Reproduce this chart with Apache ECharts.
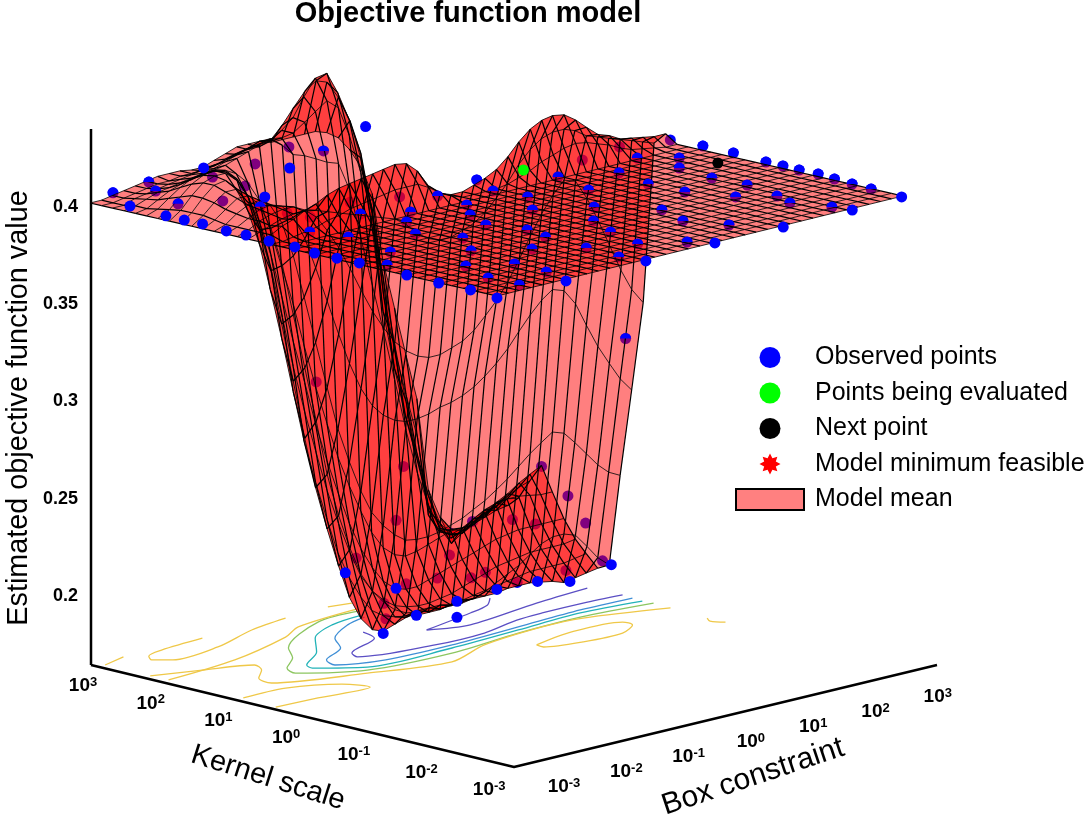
<!DOCTYPE html>
<html>
<head>
<meta charset="utf-8">
<title>Objective function model</title>
<style>html,body{margin:0;padding:0;background:#fff}#chart{width:1089px;height:819px}</style>
<script src="https://cdn.jsdelivr.net/npm/echarts@6/dist/echarts.min.js"></script>
</head>
<body>
<div id="chart"></div>
<script>
// log10 of box constraint for each surface column, 1/6 decade apart
const logBox = [-3,-2.83,-2.67,-2.5,-2.33,-2.17,-2,-1.83,-1.67,-1.5,-1.33,-1.17,-1,-0.83,-0.67,-0.5,-0.33,-0.17,0,0.17,0.33,0.5,0.67,0.83,1,1.17,1.33,1.5,1.67,1.83,2,2.17,2.33,2.5,2.67,2.83,3];
const logKernel = logBox;

// estimated objective value x1000, rows go from kernel 10^-3 to 10^3
const flatRow = [400,400,400,400,400,400,400,400,400,400,400,400,400,400,400,400,400,400,400,400,400,400,400,400,400,400,400,400,400,400,400,400,400,400,400,400,400];
const zRows = [
flatRow,flatRow,flatRow,flatRow,flatRow,flatRow,flatRow,flatRow,flatRow,flatRow,
flatRow,flatRow,flatRow,flatRow,flatRow,flatRow,flatRow,flatRow,flatRow,flatRow,
[400,400,401,402,403,405,406,408,409,410,411,412,412,412,409,405,402,400,400,400,400,401,403,405,408,410,412,413,412,410,408,405,403,402,401,400,400],
[400,402,405,407,410,412,415,417,418,419,420,421,422,421,416,407,402,400,400,402,404,407,412,418,423,426,427,426,422,417,412,410,407,406,405,404,404],
[400,402,404,406,407,407,406,404,402,400,398,396,394,392,388,382,378,376,376,378,380,384,390,396,404,410,414,416,416,414,410,408,406,404,402,400,398],
[400,402,405,407,408,408,405,400,392,382,370,358,346,336,328,322,318,316,316,318,320,324,330,336,344,354,364,374,382,388,386,376,364,350,336,325,317],
[400,402,405,408,409,407,400,388,372,354,336,320,306,296,290,286,284,284,285,287,288,290,293,297,302,308,315,322,328,332,330,322,310,298,288,279,272],
[400,402,406,409,410,406,396,378,356,332,308,286,268,252,240,232,226,222,221,221,222,224,226,229,232,236,240,245,250,254,258,256,250,243,236,231,228],
[400,403,407,411,411,405,392,372,346,318,290,262,240,222,208,198,191,186,183,182,181,181,181,181,182,184,187,190,193,197,201,203,203,201,194,187,182],
[400,404,409,413,413,405,390,368,340,310,280,254,232,212,195,183,176,174,176,178,180,180,180,179,179,179,179,179,180,180,180,179,178,176,177,178,179],
[400,404,410,415,416,410,398,380,356,330,302,276,254,234,216,202,191,183,179,177,176,175,175,175,176,177,178,179,180,181,182,183,183,183,183,184,185],
[400,404,410,415,417,417,412,402,386,364,338,312,288,266,246,228,212,199,190,184,180,178,177,177,178,179,181,183,185,187,188,189,190,190,190,190,191],
[400,403,408,413,416,417,415,410,400,386,368,346,322,300,278,258,240,224,210,199,191,186,184,184,186,188,190,192,194,196,198,199,200,200,200,200,200],
[400,402,406,410,413,414,414,413,410,404,394,378,358,338,316,294,274,256,240,226,214,205,200,198,199,201,203,205,205,207,210,212,214,214,213,212,212],
[400,401,404,407,409,410,411,412,413,415,417,419,420,416,410,408,405,402,400,385,360,335,310,285,258,235,218,205,196,200,204,207,211,214,218,221,224],
[400,401,403,405,406,407,408,409,410,412,414,416,418,418,417,418,422,426,430,425,410,390,368,335,300,270,240,220,205,198,197,200,203,206,210,213,215],
[400,400,402,403,404,405,406,407,408,409,410,412,413,414,414,418,423,432,440,441,430,415,397,360,315,285,260,240,210,198,195,197,200,203,205,206,205],
[400,400,401,402,403,404,404,405,405,405,406,408,409,410,410,412,418,425,432,436,434,425,412,392,365,320,292,268,245,205,196,195,193,195,197,199,200],
[400,400,401,402,403,404,405,405,405,404,404,406,408,410,410,410,408,408,408,408,408,406,402,395,385,370,335,310,285,262,215,200,188,190,195,198,200]
];

// observed points as [log box, log kernel, value]
const obsFull = [
[2.96,-3.02,.4],[2.20,-3.05,.4],[1.18,-3.05,.4],[.20,-3.02,.4],[-.85,-3.05,.4],[-2.04,-3.06,.4],[-3.06,-3.06,.4],
[-.49,2.56,.4],[-1.57,1.85,.4],[-1.10,3.22,.4],[-2.81,2.60,.4],[-2.86,2.02,.4],[-2.86,1.75,.4],[-2.85,1.49,.4],[-2.90,1.09,.4],[-2.89,.81,.4],[-2.91,.45,.4],[-2.91,.07,.4],[-2.96,-.27,.4],[-2.96,-.60,.4],[-2.95,-.92,.4],[-2.99,-1.66,.4],[-3.01,-2.15,.4],[-3.00,-2.61,.4],
[0,1.93,.4215],
[-.43,1.8,.203],[.13,1.8,.168],[.32,1.8,.189],[.62,1.8,.173],[1.22,1.8,.175],[1.22,1.8,.167],[1.81,1.8,.176],[2.41,1.8,.175],[2.89,1.8,.171],[3.02,1.32,.182]
];
const obsHalf = [
[3.13,.08,.4],[3.13,-.37,.4],[3.08,-.90,.4],[3.08,-1.15,.4],[3.07,-1.40,.4],[3.08,-1.67,.4],[3.04,-1.95,.4],[3.01,-2.24,.4],[2.99,-2.54,.4],
[2.15,-2.80,.4],[1.98,-2.35,.4],[2.10,-2.04,.4],[2.23,-1.47,.4],[1.78,-1.75,.4],[1.57,-1.21,.4],[2.20,-.98,.4],[2.28,-.42,.4],[2.59,-.11,.4],[1.56,-.68,.4],[.85,-1.59,.4],[.66,-2.09,.4],[.86,-2.57,.4],[.03,-2.78,.4],[-.38,-2.46,.4],[-.92,-2.72,.4],[-.20,-1.88,.4],[-.87,-2.19,.4],[.02,-1.41,.4],[.46,-.98,.4],[.95,-.41,.4],[1.70,-.11,.4],[2.29,.21,.4],[1.14,.23,.4],[.30,-.16,.4],[-.07,-.60,.4],[-.73,-1.18,.4],[-.82,-1.54,.4],[-1.29,-1.81,.4],[-1.88,-2.14,.4],[-1.90,-2.63,.4],[-2.50,-2.83,.4],[.24,.29,.4],
[.28,2.83,.4],[-1.91,1.58,.4],[-1.93,3.20,.4],[-2.16,2.87,.4],[-2.52,3.14,.4],[-2.82,-1.20,.4],[-2.39,-.82,.4],[-2.50,-2.37,.4],[-2.29,-1.83,.4],[-1.78,-1.40,.4],[-1.44,-.94,.4],[-1.65,-.45,.4],[-1.34,-.01,.4],[-1.00,.27,.4],[-.31,.56,.4],[-.38,.06,.4],[-.67,-.28,.4],[-.87,-.71,.4],[.47,.76,.4],[-2.34,.42,.4],[-2.22,-.03,.4],[-2.40,2.30,.4],[-1.42,.59,.4],
[2.63,.72,.303]
];
const obsUnder = [
[1.84,.57,.4],[2.51,.69,.4],[3.09,.52,.4],[-1.99,2.05,.4],[-1.91,1.18,.4],[-1.87,.88,.4],[-1.12,1.04,.4],[-.61,.82,.4],[-.61,2.95,.4],[.16,3.22,.4],[-1.37,2.34,.4],[-1.32,2.87,.4],
[-.86,1.8,.302],[.43,1.8,.249],[.32,1.8,.223],[1.45,1.8,.213],[1.12,1.8,.21],[2.47,1.8,.232],[2.86,1.8,.214],[2.64,1.32,.206],[2.38,1.8,.204],[2.04,1.8,.209],[1.11,1.8,.199],[.93,1.8,.189],[1.64,1.8,.186],[1.43,1.8,.185],[2.83,1.8,.177],[2.11,1.8,.177],[2.89,1.32,.185],[.17,1.8,.175],[-.27,1.8,.209],[.47,1.8,.19],[.14,1.8,.183]
];
const evalPoints = [[1.11,.71,.4]];
const nextPoints = [[2.71,-.56,.4]];

// floor contours as [log box, log kernel]
const contourPurpleA = [[-.10,2.04],[-.20,1.78],[-.80,1.50],[-.87,1.35],[.03,1.15],[.73,1.15],[1.34,1.30],[1.73,1.33],[2.31,1.33],[2.83,1.29]];
const contourPurpleB = [[1.80,2.14],[1.57,1.95],[1.22,1.84],[.41,1.65],[.87,1.49],[1.98,1.66],[2.78,1.74]];
const contourBlue = [[.35,2.47],[0,2.36],[-.48,2.06],[-.73,1.73],[-1.18,1.48],[-1.27,1.27],[-.76,1.06],[.15,1.03],[1.15,1.09],[2.09,1.15],[2.81,1.13]];
const contourTeal = [[.39,2.55],[-.11,2.47],[-.62,2.20],[-1.02,1.78],[-1.47,1.47],[-1.52,1.34],[-1.10,.98],[.06,.94],[1.06,1.0],[2.0,1.06],[2.79,.97]];
const contourGreen = [[.50,2.68],[-.13,2.65],[-1.10,2.10],[-1.36,1.78],[-1.70,1.52],[-1.79,1.31],[-1.19,.89],[-.09,.79],[.97,.91],[1.88,.94],[2.81,.83]];
const contourYellow = [
[[-2.89,2.01],[-1.83,2.13],[-.80,2.44],[-.41,2.65],[.54,2.76]],
[[-2.90,2.26],[-2.36,2.06],[-1.84,1.84],[-1.94,1.64],[-2.19,1.43],[-2.25,1.19],[-1.28,.80],[-.35,.53],[.38,.80],[1.32,.92],[1.87,.89],[2.79,.57]],
[[-1.42,3.0],[-2.06,2.94],[-2.33,2.85],[-2.42,2.72],[-2.27,2.57],[-1.57,2.63],[-.83,2.89],[-.24,3.0]],
[[-2.90,2.90],[-2.53,3.01]],
[[.39,3.03],[.67,2.97]],
[[-2.89,.95],[-2.30,.94],[-1.78,.66],[-1.67,.37],[-2.36,.42],[-2.93,.45]],
[[.75,.43],[1.32,.56],[2.03,.49],[2.02,.34],[1.71,.17],[1.17,.19],[.74,.32],[.75,.43]],
[[2.75,.01],[2.68,-.10],[2.76,-.24]]
];

const zTicks = [0.2, 0.25, 0.3, 0.35, 0.4];
const zTickLabels = ['0.2', '0.25', '0.3', '0.35', '0.4'];
const boxTicks = [-3, -2, -1, 0, 1, 2, 3];
const kernelTicks = [3, 2, 1, 0, -1, -2, -3];

const FONT = '"Liberation Sans", Arial, sans-serif';

// camera used for the surface
function surfXY(c, k, z) {
	const u = (c + 3) / 6, v = (k + 3) / 6;
	return [497 + 406 * u - 407 * v, 296 - 100 * u - 93 * v + (0.4 - z) * 2000];
}
// floor of the box sits a little apart from the surface
function floorXY(c, k) {
	const u = (c + 3) / 6, v = (k + 3) / 6;
	return [514 + 423 * u - 423 * v, 767 - 102 * u - 102 * v];
}
function zTickXY(z) {
	return [78, 207 + (0.4 - z) * 1945];
}
function boxTickXY(c) {
	return [564 + (c + 3) * 62.3, 787 - (c + 3) * 15];
}
function kernelTickXY(k) {
	return [83 + (3 - k) * 67.7, 686 + (3 - k) * 17.3];
}

const cells = [];
for (let j = logKernel.length - 2; j >= 0; j--) {
	for (let i = logBox.length - 2; i >= 0; i--) cells.push([i, j]);
}

function corner(i, j) {
	return surfXY(logBox[i], logKernel[j], zRows[j][i] / 1000);
}

function meshLine(a, b, width) {
	return {
		type: 'line',
		shape: { x1: a[0], y1: a[1], x2: b[0], y2: b[1] },
		style: { stroke: '#000', lineWidth: width }
	};
}

function renderFill(params, api) {
	const i = api.value(0), j = api.value(1);
	const pts = [corner(i, j), corner(i + 1, j), corner(i + 1, j + 1), corner(i, j + 1)].map((p) => api.coord(p));
	return { type: 'polygon', shape: { points: pts }, style: { fill: 'rgba(255,0,0,0.5)' } };
}

// mesh goes in its own series so the fill does not tint it
function renderMesh(params, api) {
	const i = api.value(0), j = api.value(1);
	const a = api.coord(corner(i, j));
	const b = api.coord(corner(i + 1, j));
	const c = api.coord(corner(i + 1, j + 1));
	const d = api.coord(corner(i, j + 1));
	const children = [meshLine(a, d, 1.2), meshLine(a, b, 0.8)];
	if (i === logBox.length - 2) children.push(meshLine(b, c, 1.2));
	if (j === logKernel.length - 2) children.push(meshLine(d, c, 0.8));
	return { type: 'group', children: children };
}

function pointSeries(name, list, color, z, extra) {
	return Object.assign({
		name: name,
		type: 'scatter',
		z: z,
		silent: true,
		symbol: 'circle',
		symbolSize: 11,
		itemStyle: { color: color, opacity: 1 },
		data: list.map((p) => surfXY(p[0], p[1], p[2]))
	}, extra || {});
}

function contourSeries(line, color) {
	return {
		type: 'line',
		z: 1,
		silent: true,
		showSymbol: false,
		smooth: 0.3,
		lineStyle: { color: color, width: 1.3 },
		data: line.map((p) => floorXY(p[0], p[1]))
	};
}

function tickSeries(items) {
	return {
		type: 'scatter',
		z: 7,
		silent: true,
		symbolSize: 0,
		itemStyle: { opacity: 1 },
		label: {
			show: true,
			position: 'inside',
			formatter: '{b}',
			color: '#000',
			fontFamily: FONT,
			fontWeight: 'bold',
			fontSize: 18,
			rich: {
				d: { fontFamily: FONT, fontWeight: 'bold', fontSize: 19, color: '#000' },
				s: { fontFamily: FONT, fontWeight: 'bold', fontSize: 13, color: '#000', padding: [0, 0, 7, 0] }
			}
		},
		data: items
	};
}

const chart = echarts.init(document.getElementById('chart'), null, { renderer: 'canvas' });

const axisLineStyle = { color: '#000', width: 2.5 };
function axisSeries(points) {
	return { type: 'line', z: 2, silent: true, showSymbol: false, lineStyle: axisLineStyle, data: points };
}

const series = [
	axisSeries([floorXY(-3, 3), floorXY(-3, -3), floorXY(3, -3)]),
	axisSeries([[91, 665], [91, 129]]),
	contourSeries(contourPurpleA, '#5b4fc4'),
	contourSeries(contourPurpleB, '#5b4fc4'),
	contourSeries(contourBlue, '#3f8fd6'),
	contourSeries(contourTeal, '#22b3b8'),
	contourSeries(contourGreen, '#8cc660')
].concat(contourYellow.map((l) => contourSeries(l, '#efc848')));

series.push(pointSeries('under', obsUnder.concat(obsHalf), '#0000ff', 3));
series.push({
	name: 'Model mean',
	type: 'custom',
	z: 4,
	silent: true,
	coordinateSystem: 'cartesian2d',
	clip: false,
	renderItem: renderFill,
	itemStyle: { color: '#ff8080', borderColor: '#000', borderWidth: 2 },
	data: cells
});
series.push({
	name: 'mesh',
	type: 'custom',
	z: 5,
	silent: true,
	coordinateSystem: 'cartesian2d',
	clip: false,
	renderItem: renderMesh,
	data: cells
});
series.push(pointSeries('halfTop', obsHalf, '#0000ff', 6, {
	symbol: 'path://M0 10A10 10 0 0 1 20 10Z',
	symbolSize: [11, 5.5],
	symbolOffset: [0, -2.75]
}));
series.push(pointSeries('Observed points', obsFull, '#0000ff', 6));
series.push(pointSeries('Points being evaluated', evalPoints, '#00ff00', 6));
series.push(pointSeries('Next point', nextPoints, '#000000', 6));
series.push({
	name: 'Model minimum feasible',
	type: 'scatter',
	silent: true,
	symbol: 'path://M50 0L61.5 22.3L85 15L77.7 38.5L100 50L77.7 61.5L85 85L61.5 77.7L50 100L38.5 77.7L15 85L22.3 61.5L0 50L22.3 38.5L15 15L38.5 22.3Z',
	itemStyle: { color: '#ff0000', opacity: 1 },
	data: []
});
series.push(tickSeries(zTicks.map((z, n) => ({ value: zTickXY(z), name: zTickLabels[n], label: { align: 'right' } }))));
series.push(tickSeries(boxTicks.map((c) => ({ value: boxTickXY(c), name: '{d|10}{s|' + c + '}' }))));
series.push(tickSeries(kernelTicks.map((k) => ({ value: kernelTickXY(k), name: '{d|10}{s|' + k + '}' }))));

function rotatedText(text, x, y, deg, size) {
	return {
		type: 'text',
		x: x,
		y: y,
		rotation: deg * Math.PI / 180,
		style: { text: text, fill: '#000', font: size + 'px ' + FONT, align: 'center', verticalAlign: 'middle' }
	};
}

chart.setOption({
	animation: false,
	backgroundColor: '#fff',
	title: {
		text: 'Objective function model',
		left: 463,
		top: -6,
		textAlign: 'center',
		textStyle: { fontFamily: FONT, fontWeight: 'bold', fontSize: 29, color: '#000' }
	},
	grid: { left: 0, right: 0, top: 0, bottom: 0 },
	xAxis: { type: 'value', min: 0, max: 1089, show: false },
	yAxis: { type: 'value', min: 0, max: 819, inverse: true, show: false },
	legend: {
		orient: 'vertical',
		left: 735,
		top: 345,
		padding: 0,
		itemWidth: 68,
		itemHeight: 21,
		itemGap: 10.5,
		selectedMode: false,
		textStyle: { fontFamily: FONT, fontSize: 25, color: '#000', padding: [0, 0, 0, 6] },
		data: [
			{ name: 'Observed points', icon: 'circle' },
			{ name: 'Points being evaluated', icon: 'circle' },
			{ name: 'Next point', icon: 'circle' },
			{ name: 'Model minimum feasible' },
			{ name: 'Model mean', icon: 'rect' }
		]
	},
	graphic: [
		rotatedText('Estimated objective function value', 19, 408, 90, 28.8),
		rotatedText('Kernel scale', 268, 778, -17.5, 29),
		rotatedText('Box constraint', 753, 777, 18.4, 30)
	],
	series: series
});
</script>
</body>
</html>
